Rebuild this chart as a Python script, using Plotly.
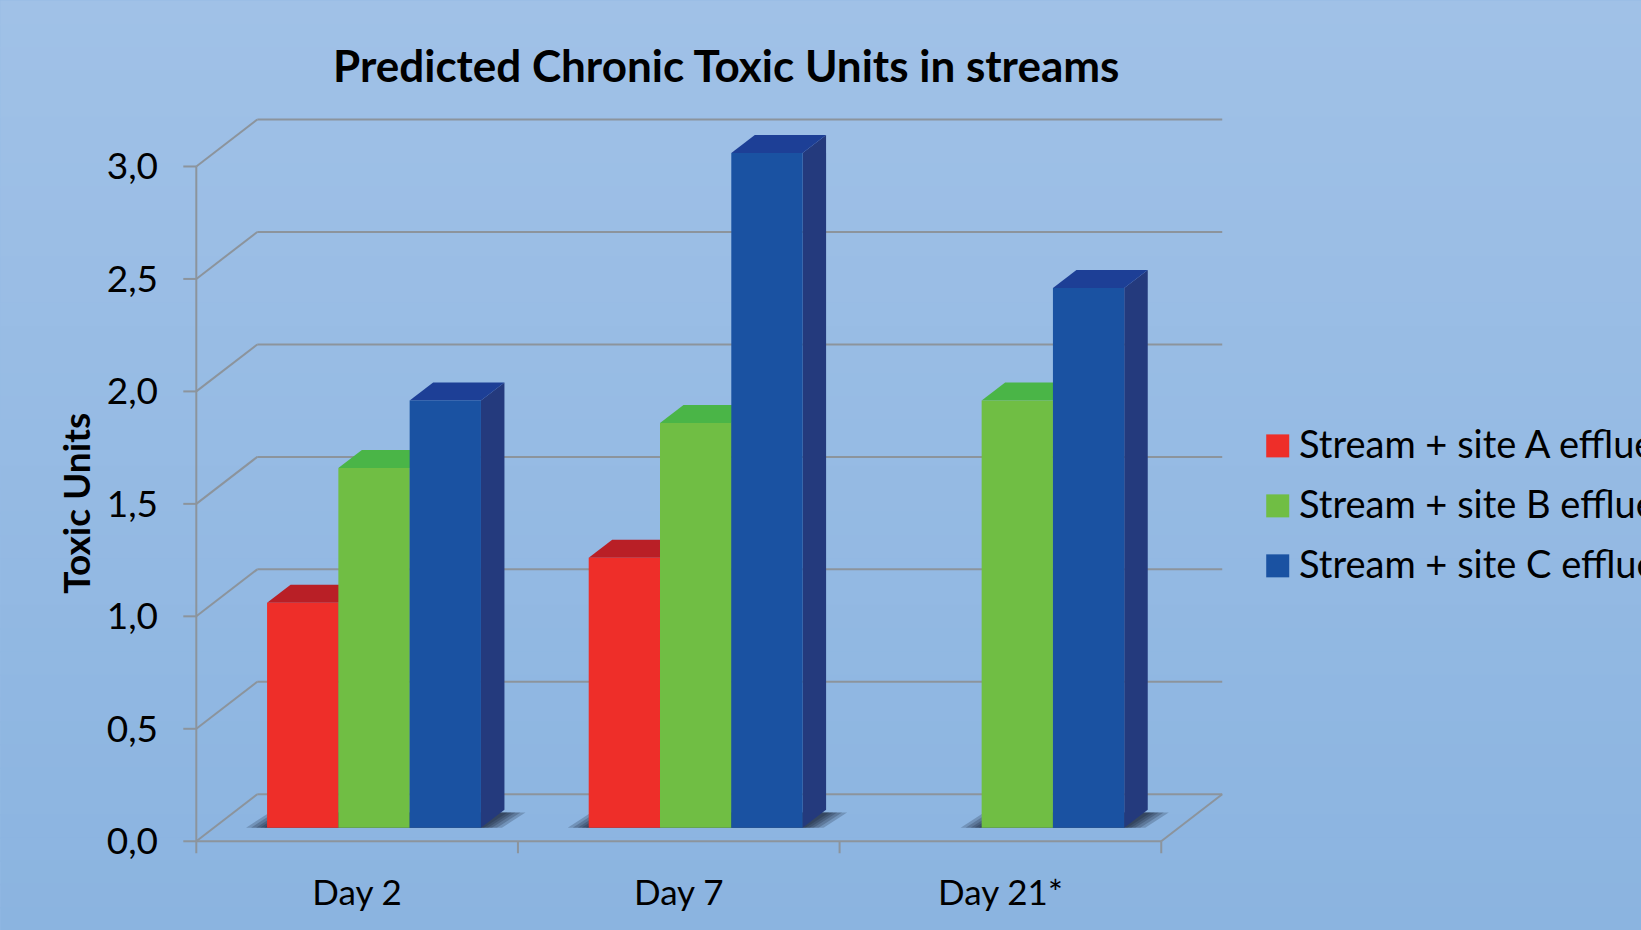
import plotly.graph_objects as go

# ---------------- data ----------------
CATEGORIES = ["Day 2", "Day 7", "Day 21*"]
SERIES_NAMES = ["Stream + site A effluent", "Stream + site B effluent", "Stream + site C effluent"]
SITE_A = [1.0, 1.2, None]
SITE_B = [1.6, 1.8, 1.9]
SITE_C = [1.9, 3.0, 2.4]
Y_TICKS = [0.0, 0.5, 1.0, 1.5, 2.0, 2.5, 3.0]
Y_TICK_LABELS = ["0,0", "0,5", "1,0", "1,5", "2,0", "2,5", "3,0"]
TITLE = "Predicted Chronic Toxic Units in streams"
Y_TITLE = "Toxic Units"

SERIES = [SITE_A, SITE_B, SITE_C]
FRONT = ["#EE2E29", "#70BE44", "#1A52A2"]
TOPC = ["#B91F26", "#4AB547", "#1D3F96"]
SIDEC = ["#9A1B20", "#3E8F35", "#243A7D"]

# ---------------- geometry (pixels -> axis units) ----------------
FIG_W, FIG_H = 1641, 930
X0_PX, Y0_PX = 196.0, 841.0          # front corner of the axes
PX_X, PX_Y = 321.67, 225.0            # pixels per category / per unit
XMIN, XMAX = -0.56, 2.72
YMIN, YMAX = -0.07, 3.26
L = X0_PX + (XMIN + 0.5) * PX_X
W = (XMAX - XMIN) * PX_X
R = FIG_W - L - W
T = Y0_PX - YMAX * PX_Y
HP = (YMAX - YMIN) * PX_Y
B = FIG_H - T - HP

DX, DY = 61 / PX_X, 47 / PX_Y          # wall depth
BDX, BDY = 23.5 / PX_X, 18 / PX_Y      # bar depth
BASE = 13.5 / PX_Y                     # bar base (depth projection)
BW = 71.3 / PX_X
OFFS = [-0.280, -0.280 + BW, -0.280 + 2 * BW]
TLX, TLY = 13 / PX_X, 12 / PX_Y        # tick lengths
GRID = "#8C949C"


def px2paper_x(px):
    return (px - L) / W


def px2paper_y(py):
    return (T + HP - py) / HP


shapes = []

# background gradient
top_rgb = (160, 193, 231)
bot_rgb = (139, 180, 224)
N = 40
for i in range(N):
    f = i / (N - 1)
    c = tuple(round(top_rgb[k] + (bot_rgb[k] - top_rgb[k]) * f) for k in range(3))
    y1 = 1 + T / HP - i * (FIG_H / HP) / N
    y0 = y1 - (FIG_H / HP) / N - 0.002
    shapes.append(dict(type="rect", xref="paper", yref="paper", layer="below",
                       x0=-L / W, x1=1 + R / W, y0=y0, y1=y1,
                       fillcolor="rgb(%d,%d,%d)" % c, line=dict(width=0)))


def line(x0, y0, x1, y1, color=GRID, width=2):
    shapes.append(dict(type="line", xref="x", yref="y", layer="below",
                       x0=x0, y0=y0, x1=x1, y1=y1, line=dict(color=color, width=width)))


def poly(pts, color, opacity=1.0):
    path = "M " + " L ".join("%f,%f" % p for p in pts) + " Z"
    shapes.append(dict(type="path", xref="x", yref="y", layer="below", path=path,
                       fillcolor=color, opacity=opacity, line=dict(width=0)))


n_cat = len(CATEGORIES)
xl_edge, xr_edge = -0.5, n_cat - 0.5

# back-wall gridlines
for v in Y_TICKS:
    line(xl_edge, v, xl_edge + DX, v + DY)
    line(xl_edge + DX, v + DY, xr_edge + DX, v + DY)
# floor edges
line(xl_edge, 0, xr_edge, 0)
line(xr_edge, 0, xr_edge + DX, DY)
# front vertical axis and ticks
line(xl_edge, 0, xl_edge, Y_TICKS[-1])
for v in Y_TICKS:
    line(xl_edge - TLX, v, xl_edge, v)
for k in range(n_cat + 1):
    xb = xl_edge + k
    line(xb, 0, xb, -TLY)

# soft shadows on the floor
for c in range(n_cat):
    present = [i for i in range(3) if SERIES[i][c] is not None]
    gl = c + OFFS[present[0]]
    gr = c + OFFS[present[-1]] + BW
    for e in (21, 16, 11, 7, 3):
        ex = e / PX_X
        poly([(gl - ex, BASE), (gr + ex, BASE), (gr + BDX + ex, BASE + BDY * 0.85),
              (gl + BDX - ex, BASE + BDY * 0.85)], "rgb(20,28,45)", 0.22)

# 3-D faces (tops and sides) below the front faces
for c in range(n_cat):
    for i in range(3):
        v = SERIES[i][c]
        if v is None:
            continue
        xl = c + OFFS[i]
        xr = xl + BW
        t = BASE + v
        poly([(xr, BASE), (xr, t), (xr + BDX, t + BDY), (xr + BDX, BASE + BDY)], SIDEC[i])
        poly([(xl, t), (xr, t), (xr + BDX, t + BDY), (xl + BDX, t + BDY)], TOPC[i])

fig = go.Figure()
for i in range(3):
    fig.add_trace(go.Bar(
        x=list(range(n_cat)), y=SERIES[i], base=BASE, width=BW, offset=OFFS[i],
        name=SERIES_NAMES[i], marker=dict(color=FRONT[i], line=dict(width=0)),
        showlegend=False))

# manual legend
annotations = []
LEG_X, LEG_Y0, LEG_DY, SQ = 1266, 445.5, 60, 23
for i in range(3):
    cy = LEG_Y0 + i * LEG_DY
    shapes.append(dict(type="rect", xref="paper", yref="paper", layer="above",
                       x0=px2paper_x(LEG_X), x1=px2paper_x(LEG_X + SQ),
                       y0=px2paper_y(cy + SQ / 2), y1=px2paper_y(cy - SQ / 2),
                       fillcolor=FRONT[i], line=dict(width=0)))
    annotations.append(dict(xref="paper", yref="paper", x=px2paper_x(1297), y=px2paper_y(cy - 2.5),
                            xanchor="left", yanchor="middle", showarrow=False,
                            text=SERIES_NAMES[i], font=dict(family="Lato", size=38, color="black")))

annotations.append(dict(xref="paper", yref="paper", x=px2paper_x(75), y=px2paper_y(503),
                        xanchor="center", yanchor="middle", showarrow=False, textangle=-90,
                        text="<b>%s</b>" % Y_TITLE, font=dict(family="Lato", size=37, color="black")))

fig.update_layout(
    width=FIG_W, height=FIG_H,
    margin=dict(l=L, r=R, t=T, b=B, autoexpand=False),
    paper_bgcolor="rgb(150,187,228)", plot_bgcolor="rgba(0,0,0,0)",
    barmode="overlay",
    title=dict(text="<b>%s</b>" % TITLE, x=px2paper_x(726), xref="paper", xanchor="center",
               y=1 - 67 / FIG_H, yref="container", yanchor="middle",
               font=dict(family="Lato", size=44, color="black")),
    xaxis=dict(range=[XMIN, XMAX], tickvals=list(range(n_cat)), ticktext=CATEGORIES,
               showgrid=False, zeroline=False, showline=False, ticks="",
               ticklabelstandoff=12, tickfont=dict(family="Lato", size=35, color="black")),
    yaxis=dict(range=[YMIN, YMAX], tickvals=Y_TICKS, ticktext=Y_TICK_LABELS,
               showgrid=False, zeroline=False, showline=False, ticks="",
               ticklabelstandoff=18, tickfont=dict(family="Lato", size=37, color="black")),
    shapes=shapes, annotations=annotations,
)

fig.write_html("out.html", config={"displayModeBar": False},
               post_script="document.body.style.margin='0';document.body.style.overflow='hidden';")
